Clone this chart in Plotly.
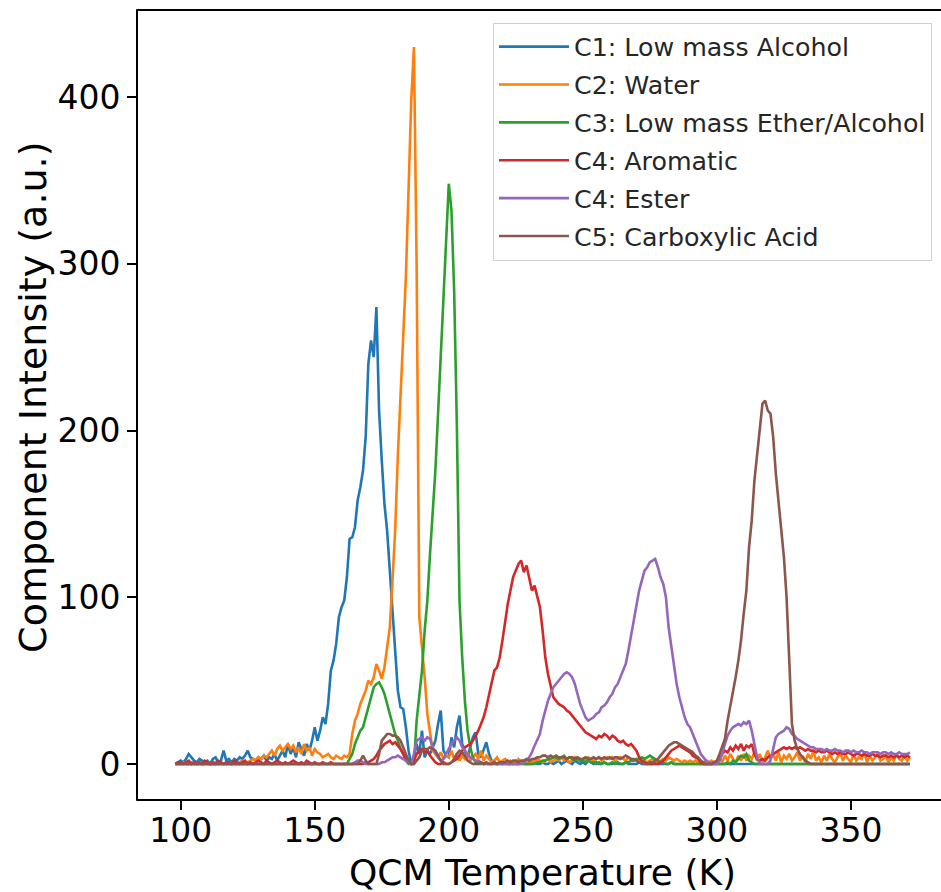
import plotly.graph_objects as go

# QCM temperature grid (K), 1 K steps 98..372
temperature = list(range(98, 373))

# C1: Low mass Alcohol
c1_alcohol = [
    0, 1,
    2, 1, 3, 6, 4, 2, 1, 3, 2, 1,
    2, 0, 3, 4, 1, 2, 8, 2, 3, 1,
    3, 2, 4, 3, 5, 8, 4, 3, 2, 4,
    3, 5, 2, 4, 3, 6, 2, 5, 8, 4,
    12, 6, 10, 4, 13, 9, 5, 12, 8, 14,
    22, 14, 20, 28, 24, 36, 56, 62, 72, 88,
    94, 98, 112, 135, 136, 142, 158, 166, 176, 196,
    240, 254, 244, 274, 212, 182, 156, 140, 116, 94,
    66, 44, 34, 33, 22, 8, 0, 4, 12, 6,
    20, 4, 8, 6, 10, 14, 24, 32, 8, 5,
    4, 16, 10, 22, 29, 12, 8, 4, 10, 16,
    19, 6, 4, 8, 13, 6, 2, 1, 0, 1,
    0, 1, 0, 0, 1, 0, 0, 1, 0, 0,
    0, 0, 1, 0, 0, 1, 0, 0, 1, 0,
    1, 2, 0, 1, 2, 1, 0, 2, 1, 0,
    1, 0, 2, 1, 0, 1, 0, 0, 1, 0,
    0, 0, 1, 0, 0, 0, 1, 0, 0, 0,
    0, 1, 0, 0, 0, 0, 0, 1, 0, 0,
    0, 0, 0, 1, 0, 0, 0, 0, 0, 0,
    0, 0, 0, 0, 0, 0, 0, 0, 0, 0,
    0, 0, 0, 0, 0, 0, 0, 0, 0, 0,
    0, 0, 0, 0, 0, 0, 0, 0, 0, 0,
    0, 0, 0, 0, 0, 0, 0, 0, 0, 0,
    0, 0, 0, 0, 0, 0, 0, 0, 0, 0,
    0, 0, 0, 0, 0, 0, 0, 0, 0, 0,
    0, 0, 0, 0, 0, 0, 0, 0, 0, 0,
    0, 0, 0, 0, 0, 0, 0, 0, 0, 0,
    0, 0, 0,
]

# C2: Water
c2_water = [
    0, 0,
    0, 1, 0, 0, 1, 0, 0, 1, 0, 0,
    1, 0, 0, 1, 0, 1, 0, 0, 1, 0,
    1, 0, 1, 2, 1, 1, 2, 3, 2, 4,
    3, 5, 4, 6, 8, 5, 9, 11, 8, 10,
    12, 9, 11, 7, 10, 6, 12, 8, 10, 5,
    9, 7, 6, 4, 5, 6, 4, 3, 5, 4,
    3, 5, 4, 6, 18, 26, 30, 36, 40, 44,
    50, 48, 52, 60, 56, 51, 58, 70, 82, 110,
    140, 185, 222, 254, 292, 345, 398, 430, 300, 88,
    72, 52, 30, 18, 8, 6, 4, 7, 3, 5,
    4, 8, 3, 6, 2, 5, 3, 7, 2, 4,
    6, 3, 8, 2, 5, 3, 1, 2, 4, 1,
    2, 3, 1, 2, 0, 1, 3, 1, 2, 0,
    1, 2, 1, 3, 2, 1, 2, 3, 1, 2,
    3, 2, 4, 2, 3, 1, 2, 4, 3, 2,
    3, 2, 4, 3, 2, 3, 4, 2, 3, 4,
    3, 4, 2, 3, 4, 3, 2, 4, 3, 2,
    3, 2, 1, 2, 1, 2, 3, 2, 1, 2,
    3, 2, 4, 3, 2, 3, 2, 1, 2, 1,
    2, 1, 2, 1, 0, 1, 2, 1, 2, 1,
    2, 4, 1, 5, 2, 6, 3, 1, 5, 2,
    6, 2, 5, 3, 7, 2, 6, 1, 4, 8,
    3, 6, 2, 7, 1, 5, 3, 6, 2, 4,
    7, 2, 5, 1, 6, 3, 8, 2, 4, 1,
    5, 2, 6, 3, 1, 4, 7, 2, 5, 3,
    1, 6, 2, 4, 3, 7, 1, 5, 2, 4,
    6, 2, 3, 5, 1, 4, 2, 6, 3, 2,
    5, 2, 4,
]

# C3: Low mass Ether/Alcohol
c3_ether = [
    0, 0,
    0, 0, 0, 0, 0, 0, 0, 0, 0, 0,
    0, 0, 0, 0, 0, 0, 0, 0, 0, 0,
    0, 0, 0, 0, 0, 0, 0, 0, 0, 0,
    0, 0, 0, 0, 0, 0, 0, 0, 0, 0,
    0, 0, 0, 0, 0, 0, 0, 0, 0, 0,
    0, 0, 0, 0, 0, 0, 0, 0, 0, 0,
    0, 0, 0, 3, 6, 12, 16, 20, 22, 28,
    34, 40, 46, 48, 49, 46, 42, 36, 30, 24,
    18, 14, 9, 6, 2, 0, 0, 0, 26, 42,
    56, 80, 98, 126, 150, 176, 210, 244, 276, 310,
    348, 332, 284, 204, 98, 64, 38, 20, 10, 4,
    1, 0, 0, 0, 0, 0, 0, 0, 0, 0,
    0, 0, 0, 0, 0, 0, 0, 0, 0, 0,
    0, 0, 0, 1, 1, 2, 2, 3, 3, 4,
    4, 3, 4, 5, 3, 4, 3, 2, 3, 2,
    2, 1, 2, 1, 1, 0, 1, 0, 1, 0,
    0, 1, 0, 1, 0, 0, 1, 1, 2, 2,
    3, 3, 4, 3, 4, 5, 4, 3, 2, 1,
    1, 0, 0, 1, 0, 0, 0, 0, 0, 0,
    0, 0, 0, 0, 0, 0, 0, 0, 0, 0,
    0, 0, 0, 0, 1, 0, 2, 1, 3, 5,
    4, 6, 2, 1, 0, 0, 0, 0, 0, 0,
    0, 0, 0, 0, 0, 0, 0, 0, 0, 0,
    0, 0, 0, 0, 0, 0, 0, 0, 0, 0,
    0, 0, 0, 0, 0, 0, 0, 0, 0, 0,
    0, 0, 0, 0, 0, 0, 0, 0, 0, 0,
    0, 0, 0, 0, 0, 0, 0, 0, 0, 0,
    0, 0, 0,
]

# C4: Aromatic
c4_aromatic = [
    0, 1,
    1, 0, 1, 2, 0, 1, 0, 1, 0, 2,
    1, 0, 1, 0, 2, 1, 0, 1, 1, 0,
    2, 1, 0, 1, 2, 0, 1, 0, 1, 2,
    1, 0, 2, 1, 0, 1, 2, 1, 0, 1,
    0, 1, 2, 1, 0, 1, 0, 2, 1, 0,
    1, 0, 0, 1, 0, 0, 1, 0, 0, 0,
    0, 0, 0, 0, 0, 0, 0, 0, 0, 1,
    1, 2, 3, 5, 8, 10, 12, 13, 14, 12,
    13, 11, 9, 6, 3, 1, 0, 2, 6, 8,
    9, 7, 8, 5, 3, 1, 0, 0, 1, 0,
    0, 1, 2, 3, 5, 8, 10, 11, 12, 14,
    17, 20, 24, 28, 34, 42, 48, 56, 58, 64,
    74, 86, 96, 104, 112, 116, 120, 122, 115, 119,
    112, 104, 107, 100, 94, 80, 64, 54, 46, 40,
    38, 36, 35, 34, 32, 31, 29, 27, 25, 23,
    21, 19, 18, 17, 16, 15, 17, 16, 18, 17,
    15, 17, 16, 14, 13, 14, 12, 11, 12, 10,
    8, 4, 2, 1, 0, 0, 0, 0, 0, 1,
    2, 4, 6, 8, 9, 10, 11, 10, 9, 8,
    7, 5, 4, 3, 1, 0, 0, 0, 0, 1,
    1, 3, 6, 8, 7, 10, 8, 11, 9, 12,
    8, 11, 10, 12, 6, 3, 2, 3, 2, 4,
    5, 6, 7, 8, 9, 10, 9, 10, 9, 10,
    9, 10, 9, 8, 9, 8, 8, 7, 8, 7,
    7, 8, 7, 6, 7, 6, 7, 6, 6, 7,
    6, 5, 6, 6, 5, 6, 5, 5, 6, 5,
    5, 4, 5, 5, 4, 5, 4, 5, 4, 5,
    4, 5, 4,
]

# C4: Ester
c4_ester = [
    0, 0,
    0, 0, 0, 0, 0, 0, 0, 0, 0, 0,
    0, 0, 0, 0, 0, 0, 0, 0, 0, 0,
    0, 0, 0, 0, 0, 0, 0, 0, 0, 0,
    0, 0, 0, 0, 0, 0, 0, 0, 0, 0,
    0, 0, 0, 0, 0, 0, 0, 0, 0, 0,
    0, 0, 0, 0, 0, 0, 0, 0, 0, 0,
    0, 0, 0, 0, 0, 1, 2, 2, 1, 0,
    0, 0, 0, 0, 0, 1, 1, 2, 3, 4,
    4, 5, 4, 3, 2, 1, 0, 6, 14, 15,
    16, 14, 16, 15, 10, 7, 4, 2, 3, 6,
    9, 12, 14, 16, 14, 10, 8, 6, 4, 3,
    2, 2, 1, 0, 0, 0, 0, 0, 0, 0,
    0, 0, 0, 0, 0, 0, 0, 0, 1, 2,
    4, 7, 11, 15, 18, 26, 32, 38, 42, 46,
    48, 50, 52, 54, 55, 54, 52, 48, 42, 36,
    32, 28, 26, 27, 28, 30, 31, 34, 35, 37,
    40, 42, 46, 48, 52, 56, 60, 68, 76, 86,
    95, 104, 110, 116, 118, 121, 122, 123, 118, 112,
    108, 100, 82, 70, 58, 48, 40, 34, 28, 24,
    22, 18, 14, 10, 6, 4, 2, 1, 0, 0,
    0, 2, 6, 12, 17, 20, 22, 23, 24, 23,
    25, 24, 26, 20, 12, 4, 0, 0, 0, 0,
    2, 10, 16, 18, 19, 20, 22, 21, 18, 17,
    15, 14, 13, 12, 11, 10, 10, 9, 9, 9,
    8, 9, 8, 8, 9, 8, 8, 7, 8, 8,
    7, 8, 7, 7, 8, 7, 7, 6, 7, 7,
    7, 6, 7, 7, 6, 7, 6, 6, 7, 6,
    6, 6, 7,
]

# C5: Carboxylic Acid
c5_acid = [
    0, 0,
    0, 0, 0, 0, 0, 0, 0, 0, 0, 0,
    0, 0, 0, 0, 0, 0, 0, 0, 0, 0,
    0, 0, 0, 0, 0, 0, 0, 0, 0, 0,
    0, 0, 0, 0, 0, 0, 0, 0, 0, 0,
    0, 0, 0, 0, 0, 0, 0, 0, 0, 0,
    0, 0, 0, 0, 0, 0, 0, 0, 0, 0,
    0, 0, 0, 0, 0, 0, 0, 2, 5, 2,
    0, 0, 0, 0, 6, 14, 16, 18, 18, 17,
    17, 16, 14, 10, 6, 2, 0, 0, 2, 4,
    8, 9, 9, 10, 9, 8, 5, 2, 0, 0,
    0, 1, 3, 6, 8, 7, 5, 2, 1, 0,
    0, 0, 1, 0, 1, 0, 0, 1, 0, 1,
    1, 1, 2, 1, 2, 2, 1, 2, 2, 3,
    2, 3, 3, 4, 4, 5, 5, 4, 5, 4,
    5, 4, 4, 4, 3, 4, 4, 3, 4, 3,
    3, 4, 3, 3, 4, 3, 4, 3, 4, 3,
    4, 3, 4, 4, 3, 4, 5, 4, 3, 3,
    2, 1, 1, 0, 0, 1, 1, 2, 3, 5,
    7, 9, 11, 12, 13, 13, 12, 11, 10, 9,
    8, 7, 5, 4, 2, 1, 0, 0, 0, 1,
    2, 6, 11, 15, 26, 34, 44, 52, 62, 74,
    90, 104, 130, 146, 170, 186, 200, 216, 218, 212,
    210, 196, 174, 156, 140, 124, 100, 60, 24, 14,
    9, 6, 4, 2, 1, 0, 0, 0, 0, 0,
    0, 0, 0, 0, 0, 0, 0, 0, 0, 0,
    0, 0, 0, 0, 0, 0, 0, 0, 0, 0,
    0, 0, 0, 0, 0, 0, 0, 0, 0, 0,
    0, 0, 0,
]

series_names = [
    "C1: Low mass Alcohol",
    "C2: Water",
    "C3: Low mass Ether/Alcohol",
    "C4: Aromatic",
    "C4: Ester",
    "C5: Carboxylic Acid",
]
series_values = [c1_alcohol, c2_water, c3_ether, c4_aromatic, c4_ester, c5_acid]
colors = ["#1f77b4", "#ff7f0e", "#2ca02c", "#d62728", "#9467bd", "#8c564b"]

x_ticks = [100, 150, 200, 250, 300, 350]
y_ticks = [0, 100, 200, 300, 400]

x_title = "QCM Temperature (K)"
y_title = "Component Intensity (a.u.)"

FONT = "DejaVu Sans"

fig = go.Figure()
for i, (name, vals, col) in enumerate(zip(series_names, series_values, colors)):
    fig.add_trace(go.Scatter(
        x=temperature, y=vals, mode="lines", name=name,
        line=dict(color=col, width=2.6),
        legendgroup=f"g{i}",
    ))

spine = dict(color="black", width=2)
fig.update_layout(
    width=941, height=892,
    margin=dict(l=137, r=0, t=10, b=92),
    paper_bgcolor="white", plot_bgcolor="white",
    font=dict(family=FONT, color="black"),
    showlegend=True,
    legend=dict(
        x=0.9888, y=0.984, xanchor="right", yanchor="top",
        bgcolor="rgba(255,255,255,0.8)", bordercolor="#d0d0d0", borderwidth=1,
        font=dict(family=FONT, size=25.3, color="#262626"),
        tracegroupgap=2, itemwidth=70,
    ),
    shapes=[
        # spines: left, bottom, top (the right spine lies outside the picture)
        dict(type="line", xref="paper", yref="paper", x0=0, x1=0, y0=-0.001, y1=1.001, line=spine),
        dict(type="line", xref="paper", yref="paper", x0=0, x1=1.01, y0=0, y1=0, line=spine),
        dict(type="line", xref="paper", yref="paper", x0=0, x1=1.01, y0=1, y1=1, line=spine),
    ],
    annotations=[
        dict(text=x_title, xref="paper", yref="paper", x=0.504, y=0,
             xanchor="center", yanchor="middle", yshift=-72, showarrow=False,
             font=dict(family=FONT, size=36, color="black")),
        dict(text=y_title, xref="paper", yref="paper", x=0, y=0.509,
             xanchor="center", yanchor="middle", xshift=-104, textangle=-90,
             showarrow=False, font=dict(family=FONT, size=38, color="black")),
    ],
)
fig.update_xaxes(
    range=[83.7, 383.6], tickvals=x_ticks, ticktext=[str(v) for v in x_ticks],
    showgrid=False, zeroline=False, showline=False,
    ticks="outside", ticklen=9, tickwidth=2, tickcolor="black",
    ticklabelstandoff=-8,
    tickfont=dict(family=FONT, size=33, color="black"),
)
fig.update_yaxes(
    range=[-21.6, 452.2], tickvals=y_ticks, ticktext=[str(v) for v in y_ticks],
    showgrid=False, zeroline=False, showline=False,
    ticks="outside", ticklen=9, tickwidth=2, tickcolor="black",
    tickfont=dict(family=FONT, size=33, color="black"),
)

fig.write_html("out.html")
